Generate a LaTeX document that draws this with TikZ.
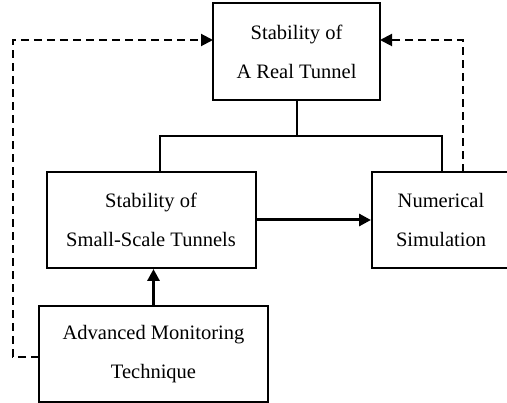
\documentclass[tikz,border=0pt]{standalone}
\usepackage{fontspec}
\setmainfont{Liberation Serif}
\usetikzlibrary{arrows.meta}
\begin{document}
\begin{tikzpicture}[x=1pt,y=-1pt,
  box/.style={draw,line width=2pt,align=center,inner sep=0pt,
    font=\fontsize{20.5}{39}\selectfont},
  link/.style={line width=2pt},
  flow/.style={line width=3pt,-{Triangle[length=12pt,width=12pt]}},
  feedback/.style={line width=2pt,dash pattern=on 8pt off 5pt,
    -{Triangle[length=12pt,width=12pt]}}]
\useasboundingbox (0,0) rectangle (507,403);
\node[box,minimum width=167pt,minimum height=97pt] (real) at (296.5,51.5)
  {Stability of\\A Real Tunnel};
\node[box,minimum width=209pt,minimum height=96pt] (small) at (151,220)
  {Stability of\\Small-Scale Tunnels};
\node[box,minimum width=138pt,minimum height=96pt] (num) at (441,220)
  {Numerical\\Simulation};
\node[box,minimum width=229pt,minimum height=96pt] (amt) at (153.5,354)
  {Advanced Monitoring\\Technique};
% tree joining the real tunnel to the two lines of study
\coordinate (fork) at (296.5,136);
\draw[link] (real.south) -- (fork);
\draw[link] (160,172) |- (fork) -| (442,172);
% solid arrows
\draw[flow] (small.east) -- (num.west);
\draw[flow] (amt.north) -- (amt.north |- small.south);
% dashed feedback to the real tunnel
\coordinate (rin) at (380,40);
\coordinate (lin) at (213,40);
\coordinate (rout) at (463,172);
\coordinate (lout) at (39,357);
\draw[feedback] (rout) |- (rin);
\draw[feedback] (lout) -| (13,40) -- (lin);
\end{tikzpicture}
\end{document}
